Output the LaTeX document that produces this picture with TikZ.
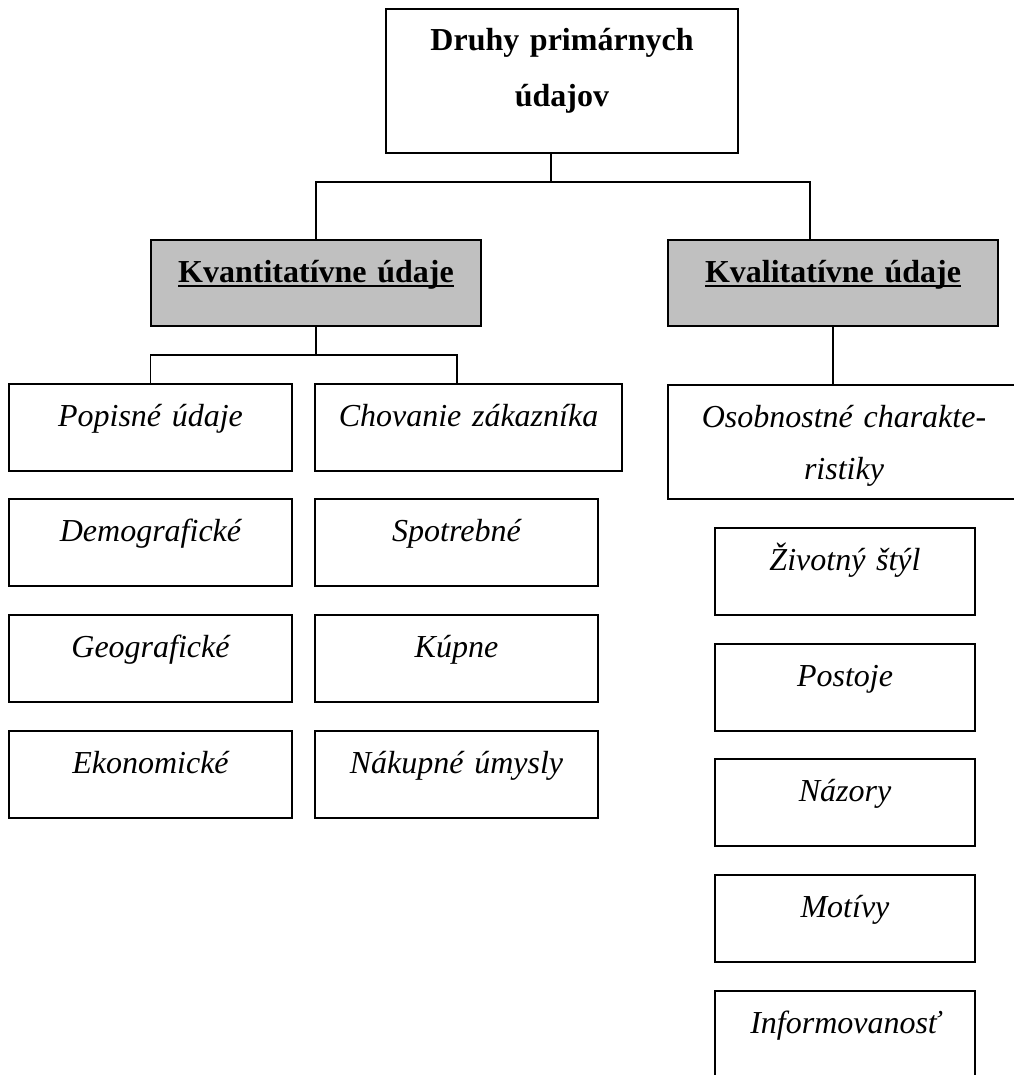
\documentclass[tikz,border=0pt]{standalone}
\usepackage{fontspec}
\setmainfont{Liberation Serif}
\usepackage{tikz}
\definecolor{headgray}{RGB}{192,192,192}
\newcommand{\headline}[1]{\setbox0\hbox{#1}\rlap{\rule[-2.6pt]{\wd0}{1.1pt}}\box0}

\begin{document}
\begin{tikzpicture}[x=0.5pt,y=-0.5pt]
		\tikzstyle{box}=[draw,line width=0.7pt,anchor=north west,inner sep=0pt,outer sep=0pt,align=center,text height=21pt]
		\tikzstyle{root}=[box,text width=176pt,text depth=51pt,font=\fontsize{16pt}{28pt}\selectfont\bfseries]
		\tikzstyle{head}=[box,fill=headgray,text width=165pt,text depth=22pt,font=\fontsize{16pt}{27pt}\selectfont\bfseries]
		\tikzstyle{leaf}=[box,text width=141.5pt,text depth=22.5pt,font=\fontsize{16pt}{26pt}\selectfont\itshape]
		\tikzstyle{trait}=[leaf,text width=130pt]
		\tikzstyle{link}=[line width=0.7pt]
		\useasboundingbox (0,0) rectangle (1013,1075);
		% root and groups
		\node [root] at (386,9) (druhy) {Druhy primárnych\\údajov};
		\node [head] at (151,240) (kvant) {\headline{Kvantitatívne údaje}};
		\node [head] at (668,240) (kval) {\headline{Kvalitatívne údaje}};
		% kvantitativne
		\node [leaf] at (9,384) (popis) {Popisné údaje};
		\node [leaf] at (9,499) (demo) {Demografické};
		\node [leaf] at (9,615) (geo) {Geografické};
		\node [leaf] at (9,731) (ekon) {Ekonomické};
		\node [leaf,text width=153.5pt] at (315,384) (chov) {Chovanie zákazníka};
		\node [leaf] at (315,499) (spotr) {Spotrebné};
		\node [leaf] at (315,615) (kup) {Kúpne};
		\node [leaf] at (315,731) (nakup) {Nákupné úmysly};
		% kvalitativne
		\node [leaf,text width=176pt,text depth=36pt] at (668,385) (osob) {Osobnostné charakte-\\ristiky};
		\node [trait] at (715,528) (styl) {Životný štýl};
		\node [trait] at (715,644) (post) {Postoje};
		\node [trait] at (715,759) (nazor) {Názory};
		\node [trait] at (715,875) (motiv) {Motívy};
		\node [trait,text depth=24pt] at (715,991) (info) {Informovanosť};
		% links
		\coordinate (t1) at (551,182);
		\coordinate (t2) at (810,182);
		\coordinate (k2) at (457,355);
		\draw [link] (t1 |- druhy.south) -- (t1);
		\draw [link] (kvant.north) |- (t2) -- (t2 |- kval.north);
		\draw [link] (kvant.south) -- (kvant.south |- k2);
		\draw [link] (popis.north) |- (k2) -- (k2 |- chov.north);
		\draw [link] (kval.south) -- (kval.south |- osob.north);
	\end{tikzpicture}
\end{document}
